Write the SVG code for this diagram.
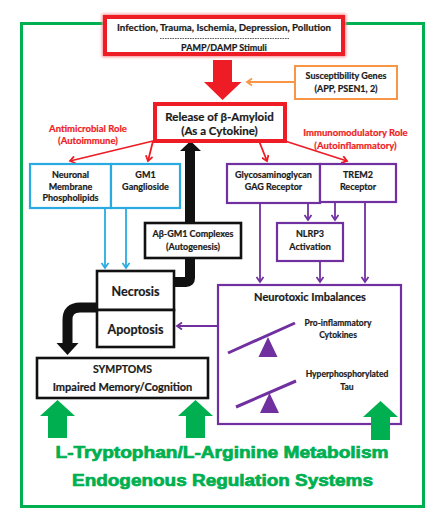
<svg xmlns="http://www.w3.org/2000/svg" width="440" height="518" viewBox="0 0 440 518">
<defs>
<style>
text{font-family:Lato,"Liberation Sans",sans-serif;font-weight:bold;text-anchor:middle;fill:#1a1a1a;stroke:#1a1a1a;stroke-width:0.2}
.s9{font-size:9px}
.s95{font-size:9.5px}
.s97{font-size:9.7px}
.s8{font-size:8.5px}
.s11{font-size:11.5px}
.s12{font-size:12.5px}
.s10{font-size:10.5px}
.s105{font-size:11px}
.red{fill:#ee1c24;stroke:#ee1c24}
.green{font-family:"Liberation Sans",Arial,sans-serif;font-size:16px;fill:#00b050;stroke:#00b050;stroke-width:0.7;font-weight:bold}
.rbox{fill:#fff;stroke:#ee1c24;stroke-width:4}
.bbox{fill:#fff;stroke:#29abe2;stroke-width:2.2}
.pbox{fill:#fff;stroke:#7030a0;stroke-width:2.2}
.kbox{fill:#fff;stroke:#111;stroke-width:2.6}
.ln-r{stroke:#ee1c24;stroke-width:1.8;fill:none}
.ln-b{stroke:#29abe2;stroke-width:1.8;fill:none}
.ln-p{stroke:#7030a0;stroke-width:1.8;fill:none}
.ln-o{stroke:#f79646;stroke-width:1.8;fill:none}
</style>
<filter id="glow" x="-10%" y="-30%" width="120%" height="160%"><feGaussianBlur stdDeviation="1.5"/></filter>
<marker id="mr" markerWidth="8" markerHeight="8" refX="6" refY="4" orient="auto" markerUnits="userSpaceOnUse"><path d="M1,0.5 L6,4 L1,7.5" fill="none" stroke="#ee1c24" stroke-width="1.8"/></marker>
<marker id="mb" markerWidth="8" markerHeight="8" refX="6" refY="4" orient="auto" markerUnits="userSpaceOnUse"><path d="M1,0.5 L6,4 L1,7.5" fill="none" stroke="#29abe2" stroke-width="1.8"/></marker>
<marker id="mp" markerWidth="8" markerHeight="8" refX="6" refY="4" orient="auto" markerUnits="userSpaceOnUse"><path d="M1,0.5 L6,4 L1,7.5" fill="none" stroke="#7030a0" stroke-width="1.8"/></marker>
<marker id="mo" markerWidth="8" markerHeight="8" refX="6" refY="4" orient="auto" markerUnits="userSpaceOnUse"><path d="M1,0.5 L6,4 L1,7.5" fill="none" stroke="#f79646" stroke-width="1.8"/></marker>
</defs>
<rect width="440" height="518" fill="#fff"/>
<g id="frame"><rect x="21.5" y="23.5" width="402" height="483" fill="none" stroke="#00b050" stroke-width="3"/></g>

<g id="connectors">
<path d="M213,60 H232 V82 H241.5 L222.5,100 L204,82 H213 Z" fill="#ee1c24"/>
<line x1="294" y1="82" x2="247" y2="82" class="ln-o" marker-end="url(#mo)"/>
<line x1="153" y1="141" x2="70" y2="161" class="ln-r" marker-end="url(#mr)"/>
<line x1="153" y1="141" x2="148" y2="161" class="ln-r" marker-end="url(#mr)"/>
<line x1="259" y1="141" x2="267" y2="161" class="ln-r" marker-end="url(#mr)"/>
<line x1="285" y1="141" x2="347" y2="161" class="ln-r" marker-end="url(#mr)"/>
<line x1="105" y1="208" x2="105" y2="268" class="ln-b" marker-end="url(#mb)"/>
<line x1="126" y1="208" x2="126" y2="268" class="ln-b" marker-end="url(#mb)"/>
<line x1="260" y1="203" x2="260" y2="282" class="ln-p" marker-end="url(#mp)"/>
<line x1="308" y1="203" x2="308" y2="220" class="ln-p" marker-end="url(#mp)"/>
<line x1="335" y1="203" x2="335" y2="220" class="ln-p" marker-end="url(#mp)"/>
<line x1="320" y1="261" x2="320" y2="282" class="ln-p" marker-end="url(#mp)"/>
<line x1="365" y1="203" x2="365" y2="282" class="ln-p" marker-end="url(#mp)"/>
<line x1="218" y1="326" x2="177" y2="326" class="ln-p" marker-end="url(#mp)"/>
<path d="M174,282 H186 Q190,282 190,278 V149" fill="none" stroke="#111" stroke-width="10"/>
<path d="M180,151 L201,151 L190.5,141 Z" fill="#111"/>
<path d="M97,307.5 H80 Q67.5,307.5 67.5,320 V344" fill="none" stroke="#111" stroke-width="10"/>
<path d="M56.5,343 L78.5,343 L67.5,355 Z" fill="#111"/>
</g>

<g id="n-stimuli">
<rect x="105" y="17" width="238" height="37" fill="none" stroke="#f58a8e" stroke-width="6" filter="url(#glow)"/>
<rect x="105" y="17" width="238" height="37" class="rbox"/>
<text x="224" y="30.5" class="s97">Infection, Trauma, Ischemia, Depression, Pollution</text>
<line x1="160" y1="38.5" x2="289" y2="38.5" stroke="#333" stroke-width="0.8" stroke-dasharray="1.6 0.9"/>
<text x="224" y="51" class="s9">PAMP/DAMP Stimuli</text>
</g>

<g id="n-genes">
<rect x="295" y="66" width="102" height="33" fill="#fff" stroke="#f79646" stroke-width="2"/>
<text x="346" y="79" class="s9">Susceptibility Genes</text>
<text x="346" y="92" class="s9">(APP, PSEN1, 2)</text>
</g>

<g id="n-release">
<rect x="155" y="104" width="130" height="37" class="rbox"/>
<text x="219.5" y="121" class="s11">Release of β-Amyloid</text>
<text x="219.5" y="135" class="s11">(As a Cytokine)</text>
</g>

<g id="l-antimicrobial">
<text x="88" y="132" class="s95 red">Antimicrobial Role</text>
<text x="88" y="144" class="s95 red">(Autoimmune)</text>
</g>
<g id="l-immuno">
<text x="355.5" y="136" class="s95 red">Immunomodulatory Role</text>
<text x="355.5" y="149" class="s95 red">(Autoinflammatory)</text>
</g>

<g id="n-phospholipids">
<rect x="30" y="164" width="81" height="44" class="bbox"/>
<text x="70.5" y="178" class="s9">Neuronal</text>
<text x="70.5" y="189.5" class="s9">Membrane</text>
<text x="70.5" y="201" class="s9">Phospholipids</text>
</g>
<g id="n-gm1">
<rect x="111" y="164" width="69" height="44" class="bbox"/>
<text x="145.5" y="178" class="s9">GM1</text>
<text x="145.5" y="189.5" class="s9">Ganglioside</text>
</g>

<g id="n-gag">
<rect x="227" y="164" width="93" height="39" class="pbox"/>
<text x="273.5" y="178" class="s9">Glycosaminoglycan</text>
<text x="273.5" y="189.5" class="s9">GAG Receptor</text>
</g>
<g id="n-trem2">
<rect x="320" y="164" width="76" height="38" class="pbox"/>
<text x="358" y="178" class="s9">TREM2</text>
<text x="358" y="189.5" class="s9">Receptor</text>
</g>

<g id="n-complexes">
<rect x="145" y="223" width="96" height="35" class="kbox" stroke-width="2"/>
<text x="193" y="237" class="s9">Aβ-GM1 Complexes</text>
<text x="193" y="250" class="s9">(Autogenesis)</text>
</g>

<g id="n-nlrp3">
<rect x="277" y="223" width="66" height="38" class="pbox"/>
<text x="310" y="237" class="s9">NLRP3</text>
<text x="310" y="249.5" class="s9">Activation</text>
</g>

<g id="n-necrosis">
<rect x="97" y="271" width="77" height="39" class="kbox"/>
<text x="135.5" y="296" class="s12">Necrosis</text>
</g>
<g id="n-apoptosis">
<rect x="97" y="310" width="77" height="37" class="kbox"/>
<text x="135.5" y="334" class="s12">Apoptosis</text>
</g>

<g id="n-symptoms">
<rect x="37" y="358" width="171" height="40" class="kbox"/>
<text x="122.5" y="373" class="s10">SYMPTOMS</text>
<text x="122.5" y="391" class="s105">Impaired Memory/Cognition</text>
</g>

<g id="n-neurotoxic">
<rect x="218" y="285" width="183" height="139" class="pbox"/>
<text x="310" y="301" class="s105">Neurotoxic Imbalances</text>
<line x1="228" y1="353" x2="295" y2="323" stroke="#7030a0" stroke-width="3"/>
<path d="M268,337 L277.5,357 L258.5,357 Z" fill="#7030a0"/>
<text x="338" y="326" class="s8">Pro-inflammatory</text>
<text x="338" y="338" class="s8">Cytokines</text>
<line x1="236" y1="407" x2="296" y2="381" stroke="#7030a0" stroke-width="3"/>
<path d="M269.5,393 L279,413 L260,413 Z" fill="#7030a0"/>
<text x="347" y="377" class="s8">Hyperphosphorylated</text>
<text x="347" y="390" class="s8">Tau</text>
</g>

<g id="n-regulation">
<path d="M57.5,400 L75,416 H67 V438 H48 V416 H40 Z" fill="#00b050"/>
<path d="M195.5,400 L213,416 H205 V438 H186 V416 H178 Z" fill="#00b050"/>
<path d="M380.5,401 L398,417 H390 V440 H371 V417 H363 Z" fill="#00b050"/>
<text x="222" y="458" class="green" textLength="333" lengthAdjust="spacingAndGlyphs">L-Tryptophan/L-Arginine Metabolism</text>
<text x="222.5" y="486" class="green" textLength="301" lengthAdjust="spacingAndGlyphs">Endogenous Regulation Systems</text>
</g>
</svg>
